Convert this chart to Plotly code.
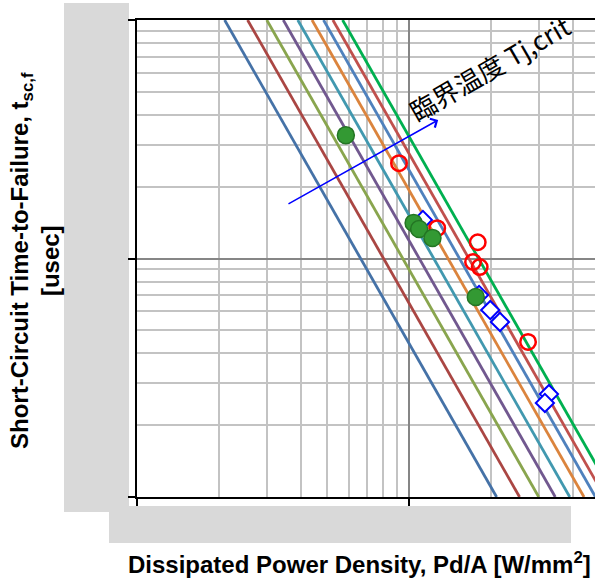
import numpy as np
import plotly.graph_objects as go

# ---------------- data ----------------
# critical-temperature lines (slope -2 in log-log): Pd/A where each line crosses t = 100 us and t = 1 us
t_top = 100.0
t_bottom = 1.0
line_pd_at_top = [2.1, 2.55, 3.0, 3.45, 3.9, 4.4, 4.85, 5.25, 5.7]
line_pd_at_bottom = [21.0, 25.5, 30.0, 34.5, 39.0, 44.0, 48.5, 52.5, 57.0]
line_colors = ["#4572A7", "#AA4643", "#89A54E", "#71588F", "#4198AF",
               "#DB843D", "#4F81BD", "#C0504D", "#00B050"]

# blue open diamonds
diamond_pd = [11.25, 18.1, 19.9, 21.6, 32.7, 31.6]
diamond_t = [14.5, 7.03, 6.08, 5.42, 2.70, 2.48]

# red open circles
red_pd = [9.19, 12.7, 17.9, 17.2, 18.2, 27.4]
red_t = [25.1, 13.4, 11.7, 9.67, 9.21, 4.47]

# green filled circles
green_pd = [5.86, 10.4, 10.9, 12.2, 17.6]
green_t = [32.9, 14.1, 13.3, 12.2, 6.9]

# arrow (tail -> head), data coordinates
arrow_tail = (3.56, 16.8)
arrow_head = (12.8, 38.1)

# axes
x_range = [1.0, 48.3]
y_range = [1.0, 100.0]
x_major = [1, 10]
y_major = [1, 10, 100]
x_minor = [2, 3, 4, 5, 6, 7, 8, 9, 20, 30, 40]
y_minor = [2, 3, 4, 5, 6, 7, 8, 9, 20, 30, 40, 50, 60, 70, 80, 90]

# ---------------- layout geometry ----------------
W, H = 595, 580
ML, MR, MT, MB = 137, 0, 20, 83
PW, PH = W - ML - MR, H - MT - MB


def px_x(px):
    return (px - ML) / PW


def px_y(py):
    return (H - MB - py) / PH


fig = go.Figure()

for pd_a, pd_b, col in zip(line_pd_at_top, line_pd_at_bottom, line_colors):
    fig.add_trace(go.Scatter(x=[pd_a, pd_b], y=[t_top, t_bottom], mode="lines",
                             line=dict(color=col, width=2.8), hoverinfo="skip"))

fig.add_trace(go.Scatter(x=diamond_pd, y=diamond_t, mode="markers",
                         marker=dict(symbol="diamond", size=14, color="white",
                                     line=dict(color="#0000FF", width=2))))
fig.add_trace(go.Scatter(x=red_pd, y=red_t, mode="markers",
                         marker=dict(symbol="circle-open", size=15.5, color="#FF0000",
                                     line=dict(color="#FF0000", width=2.5))))
fig.add_trace(go.Scatter(x=green_pd, y=green_t, mode="markers",
                         marker=dict(symbol="circle", size=17, color="#339933",
                                     line=dict(color="#247524", width=1.5))))

gray = "#D9D9D9"
shapes = [
    dict(type="rect", xref="paper", yref="paper", x0=px_x(64), x1=px_x(129),
         y0=px_y(512), y1=px_y(3), fillcolor=gray, line=dict(width=0), layer="below"),
    dict(type="rect", xref="paper", yref="paper", x0=px_x(109), x1=px_x(571),
         y0=px_y(543), y1=px_y(506), fillcolor=gray, line=dict(width=0), layer="below"),
]

title_font = dict(family="Liberation Sans, Arial, sans-serif", size=24, color="black", weight="bold")
annotations = [
    dict(xref="x", yref="y", axref="x", ayref="y",
         x=np.log10(arrow_head[0]), y=np.log10(arrow_head[1]),
         ax=np.log10(arrow_tail[0]), ay=np.log10(arrow_tail[1]),
         text="", showarrow=True, arrowhead=4, arrowsize=1.3, arrowwidth=1.5,
         arrowcolor="#0000FF"),
    dict(xref="paper", yref="paper", x=px_x(489), y=px_y(67),
         text="臨界温度 Tj,crit", showarrow=False, textangle=-30,
         xanchor="center", yanchor="middle",
         font=dict(family="Noto Sans CJK JP", size=26, color="black")),
    dict(xref="paper", yref="paper", x=px_x(35), y=px_y(261),
         text="Short-Circuit Time-to-Failure, t<sub>sc,f</sub><br>[usec]",
         showarrow=False, textangle=-90, xanchor="center", yanchor="middle",
         font=title_font),
    dict(xref="paper", yref="paper", x=px_x(359), y=px_y(563),
         text="Dissipated Power Density, Pd/A [W/mm<sup>2</sup>]",
         showarrow=False, xanchor="center", yanchor="middle", font=title_font),
]

fig.update_layout(
    width=W, height=H, margin=dict(l=ML, r=MR, t=MT, b=MB),
    paper_bgcolor="white", plot_bgcolor="white", showlegend=False,
    shapes=shapes, annotations=annotations,
    xaxis=dict(type="log", range=[np.log10(x_range[0]), np.log10(x_range[1])],
               tickmode="array", tickvals=x_major, showticklabels=False,
               ticks="outside", ticklen=7, tickwidth=2, tickcolor="black",
               showgrid=True, gridcolor="#868686", gridwidth=1.5,
               showline=True, linecolor="black", linewidth=2, mirror=True, zeroline=False,
               minor=dict(tickmode="array", tickvals=x_minor, showgrid=True,
                          gridcolor="#C3C3C3", gridwidth=1.5, ticks="")),
    yaxis=dict(type="log", range=[np.log10(y_range[0]), np.log10(y_range[1])],
               tickmode="array", tickvals=y_major, showticklabels=False,
               ticks="outside", ticklen=7, tickwidth=2, tickcolor="black",
               showgrid=True, gridcolor="#868686", gridwidth=1.5,
               showline=True, linecolor="black", linewidth=2, zeroline=False,
               minor=dict(tickmode="array", tickvals=y_minor, showgrid=True,
                          gridcolor="#C3C3C3", gridwidth=1.5, ticks="")),
)

fig.write_html("out.html", config={"displayModeBar": False},
               post_script="document.body.style.margin='0';document.body.style.overflow='hidden';")
